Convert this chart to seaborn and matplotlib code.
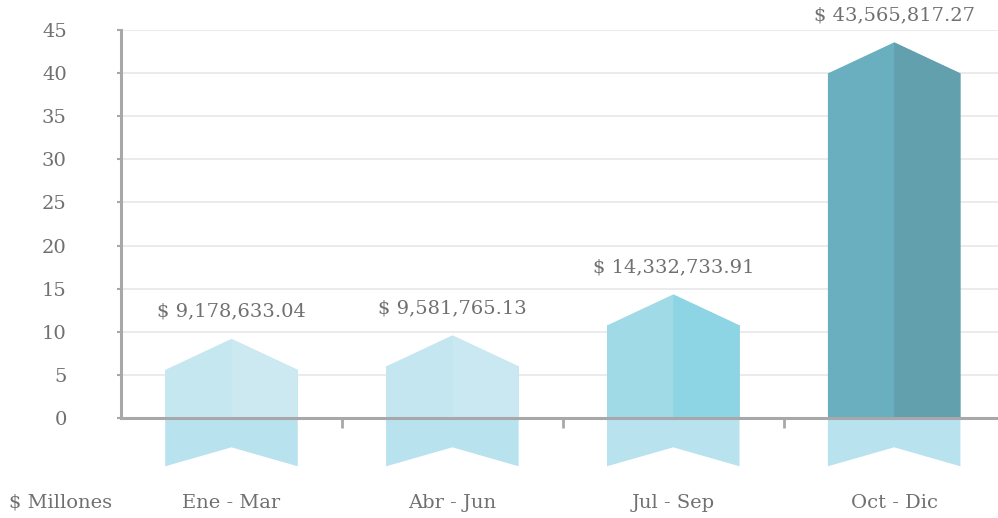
import numpy as np
import matplotlib.pyplot as plt
import seaborn as sns

# quarterly totals, in millions of pesos
periods = ['Ene - Mar', 'Abr - Jun', 'Jul - Sep', 'Oct - Dic']
amounts = [9178633.04, 9581765.13, 14332733.91, 43565817.27]
left_cols = ['#c5e7f0', '#c3e6f0', '#a0dae7', '#6aafbf']
right_cols = ['#cce9f2', '#cae8f1', '#8dd5e5', '#62a0ad']
shadow_col = '#b8e2ee'

values = np.array(amounts) / 1e6
HEAD = 3.6        # arrow head height (data units)
NOTCH = 3.4       # notch of the ribbon below the axis
DEPTH = 5.6

sns.set_style('white')
plt.rcParams['font.family'] = ['DejaVu Serif']
grey = '#707070'
fs = 14

fig = plt.figure(figsize=(9.98, 5.18), dpi=100)
ax = fig.add_axes([121 / 998, 100 / 518, 877 / 998, 388 / 518])

sns.barplot(x=periods, y=values - HEAD, hue=periods, palette=left_cols,
            width=0.6, saturation=1, legend=False, ax=ax, zorder=3)

for p, v, lc, rc in zip(ax.patches, values, left_cols, right_cols):
    x0, w, h = p.get_x(), p.get_width(), p.get_height()
    xc, x1 = x0 + w / 2, x0 + w
    p.set_linewidth(0)
    # whole arrow in the left colour, right half painted over it
    ax.fill([x0, x1, x1, xc, x0], [0, 0, h, v, h], color=lc, lw=0, zorder=3)
    ax.fill([xc, x1, x1, xc], [0, 0, h, v], color=rc, lw=0, zorder=3)
    for poly in ax.fill([x0, x1, x1, xc, x0], [0, 0, -DEPTH, -NOTCH, -DEPTH],
                        color=shadow_col, lw=0, zorder=2):
        poly.set_clip_on(False)
    ax.annotate(f'$ {v * 1e6:,.2f}', (xc, v), xytext=(0, 13),
                textcoords='offset points', ha='center', va='bottom',
                fontsize=fs, color=grey)

ax.set_xlim(-0.5, 3.47)
ax.set_ylim(0, 45)
ax.set_yticks(range(0, 46, 5))
ax.yaxis.grid(True, color='#e8e8e8', lw=1.2, zorder=0)
ax.set_axisbelow(True)
ax.set_xlabel('')
ax.set_ylabel('')

for side in ['top', 'right']:
    ax.spines[side].set_visible(False)
for side in ['left', 'bottom']:
    ax.spines[side].set_color('#a8a8aa')
    ax.spines[side].set_linewidth(2.2)
    ax.spines[side].set_zorder(4)

ax.tick_params(axis='y', length=3, width=1.5, color='#a8a8aa', pad=36,
               labelsize=fs, labelcolor=grey, left=True)
ax.tick_params(axis='x', which='major', length=0, pad=55,
               labelsize=fs, labelcolor=grey)
ax.set_xticks([0.5, 1.5, 2.5], minor=True)
ax.tick_params(axis='x', which='minor', length=7, width=2, color='#a8a8aa',
               bottom=True)

ax.text(-0.5 - 60 / 221, -85 / 388 * 45, '$ Millones', ha='center', va='center',
        fontsize=fs, color=grey)

fig.savefig('out.png', dpi=100)
